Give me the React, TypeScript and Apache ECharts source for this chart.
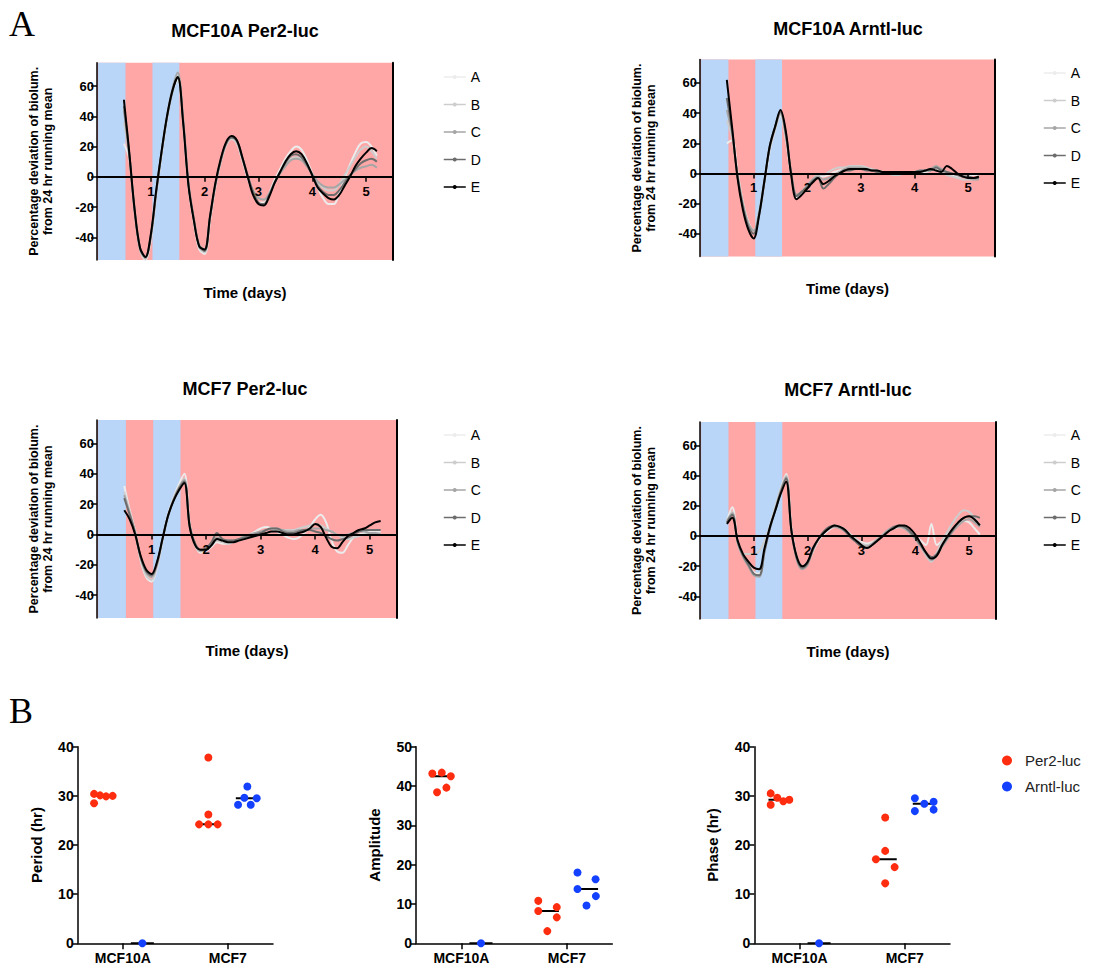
import React, { useEffect, useRef } from "react";
import * as echarts from "echarts";

// ---------- DATA: panel A (percentage deviation of bioluminescence) ----------
const TIME_DAYS = [0.5, 0.6, 0.7, 0.8, 0.9, 1.0, 1.1, 1.2, 1.3, 1.4, 1.5, 1.6, 1.7, 1.8, 1.9, 2.0, 2.1, 2.2, 2.3, 2.4, 2.5, 2.6, 2.7, 2.8, 2.9, 3.0, 3.1, 3.2, 3.3, 3.4, 3.5, 3.6, 3.7, 3.8, 3.9, 4.0, 4.1, 4.2, 4.3, 4.4, 4.5, 4.6, 4.7, 4.8, 4.9, 5.0, 5.1, 5.2];
const REPLICATES = ["A", "B", "C", "D", "E"];
const X_TICKS = [1, 2, 3, 4, 5];
const Y_TICKS = [-40, -20, 0, 20, 40, 60];
const Y_MIN = -55;
const Y_MAX = 75.5;
const BLUE_BANDS = [[0.02, 0.53], [1.03, 1.53]];

const MCF10A_PER2_A = [22, 12, -22, -48, -55, -42, -12, 14, 38, 56, 64, 35, -7, -30, -48, -51, -29, -6, 10, 21, 25, 22, 11, -1, -11, -17, -17, -11, -2, 5, 12, 17, 20, 18, 11, 2, -7, -14, -18, -18, -11, -1, 8, 16, 22, 23, 20, 14];
const MCF10A_PER2_B = [36, 13, -23, -48, -54, -40, -11, 15, 39, 57, 67, 38, -5, -29, -47, -50, -28, -6, 10, 21, 25, 22, 12, 0, -9, -14, -15, -11, -3, 3, 8, 12, 13, 12, 8, 2, -4, -7, -9, -9, -5, 1, 7, 13, 18, 20, 17, 12];
const MCF10A_PER2_C = [44, 14, -23, -48, -54, -40, -11, 16, 40, 58, 69, 39, -4, -28, -45, -48, -27, -5, 11, 22, 26, 23, 12, 0, -9, -14, -15, -11, -4, 2, 7, 11, 12, 11, 7, 2, -3, -6, -7, -7, -5, -2, 1, 4, 6, 7, 8, 6];
const MCF10A_PER2_D = [47, 15, -22, -47, -53, -39, -10, 16, 39, 56, 66, 37, -5, -28, -46, -49, -27, -5, 11, 22, 26, 24, 13, 1, -10, -17, -18, -12, -4, 3, 9, 14, 15, 13, 8, 1, -6, -10, -12, -12, -9, -4, 1, 5, 9, 11, 12, 10];
const MCF10A_PER2_E = [51, 16, -22, -47, -53, -38, -9, 17, 40, 57, 66, 36, -6, -29, -46, -48, -26, -4, 12, 23, 27, 24, 13, 0, -12, -18, -19, -13, -4, 3, 10, 15, 17, 15, 9, 1, -7, -11, -14, -15, -12, -6, 0, 7, 12, 16, 19, 17];

const MCF10A_ARNTL_A = [20, 22, 1, -19, -32, -38, -27, -7, 15, 29, 38, 23, -1, -16, -13, -9, -5, -2, -2, -1, 1, 2, 3, 3, 3, 3, 3, 2, 2, 1, 1, 1, 0, 0, 0, 0, 1, 1, 2, 3, 1, 0, -1, -2, -2, -2, -1, -1];
const MCF10A_ARNTL_B = [35, 24, 0, -20, -33, -38, -26, -6, 16, 29, 39, 24, 0, -15, -12, -8, -4, -1, -1, 1, 3, 4, 4, 5, 5, 5, 4, 3, 2, 1, 0, -1, -1, 0, 0, 1, 2, 2, 3, 2, 1, -1, -2, -3, -4, -4, -4, -3];
const MCF10A_ARNTL_C = [42, 26, -1, -20, -33, -38, -26, -5, 17, 30, 40, 25, 1, -14, -12, -8, -4, -2, -4, -3, -1, 1, 3, 4, 4, 4, 3, 2, 2, 1, 1, 1, 0, 0, 0, 1, 1, 2, 3, 5, 3, 1, 0, -1, -2, -3, -4, -4];
const MCF10A_ARNTL_D = [50, 28, -2, -22, -35, -40, -28, -6, 18, 31, 41, 26, 0, -15, -12, -9, -5, -3, -10, -7, -3, 0, 2, 2, 3, 3, 2, 2, 1, 1, 0, 0, 1, 1, 1, 1, 2, 2, 2, 4, 2, 1, 0, -1, -2, -2, -3, -3];
const MCF10A_ARNTL_E = [62, 30, -3, -24, -37, -43, -28, -5, 18, 31, 42, 28, -1, -17, -14, -10, -6, -3, -7, -5, -2, 0, 2, 3, 3, 3, 3, 2, 2, 1, 1, 1, 1, 1, 1, 1, 1, 2, 3, 2, 1, 5, 3, 0, -2, -3, -3, -2];

const MCF7_PER2_A = [32, 16, 2, -17, -28, -31, -22, -4, 13, 24, 33, 40, 7, -7, -12, -11, -8, -5, -6, -6, -5, -4, -2, 0, 2, 4, 5, 4, 2, 0, -2, -3, -2, 1, 5, 10, 13, 8, -4, -11, -12, -7, -2, 0, 1, 2, 2, 2];
const MCF7_PER2_B = [28, 15, 2, -16, -27, -30, -21, -4, 12, 23, 31, 37, 6, -7, -11, -10, -7, -4, -5, -6, -5, -4, -3, -2, -1, 0, 1, 2, 3, 3, 3, 3, 4, 5, 6, 7, 6, 4, 2, 0, -2, -3, -2, -1, 0, 1, 1, 1];
const MCF7_PER2_C = [26, 14, 1, -15, -25, -28, -20, -3, 12, 23, 31, 36, 5, -7, -11, -10, -6, -2, -3, -4, -4, -3, -1, 0, 1, 2, 3, 4, 4, 3, 2, 2, 3, 3, 4, 4, 4, 3, 2, 0, -1, 0, 1, 2, 2, 1, 1, 0];
const MCF7_PER2_D = [24, 13, 1, -15, -24, -27, -19, -3, 12, 22, 30, 35, 6, -6, -10, -9, -5, 1, -3, -4, -4, -3, -2, -1, 0, 1, 3, 4, 4, 2, 1, 1, 2, 3, 3, 2, 1, -1, -3, -4, -3, -2, 0, 2, 3, 3, 3, 3];
const MCF7_PER2_E = [16, 10, 0, -14, -23, -26, -18, -3, 12, 22, 29, 34, 5, -7, -10, -10, -7, -3, -4, -5, -5, -4, -3, -2, -1, 0, 1, 2, 2, 1, 0, 0, 1, 2, 4, 7, 5, -2, -8, -9, -5, -1, 1, 3, 4, 6, 8, 9];

const MCF7_ARNTL_A = [10, 19, -3, -13, -19, -24, -25, -9, 7, 19, 31, 41, 5, -15, -21, -18, -10, -3, 1, 4, 6, 6, 4, 1, -2, -4, -5, -4, -2, 1, 3, 5, 6, 5, 3, 0, -3, -6, 8, -6, -3, 1, 5, 8, 10, 9, 5, 1];
const MCF7_ARNTL_B = [9, 16, -5, -12, -12, -12, -10, -3, 7, 19, 31, 40, 4, -14, -20, -17, -9, -2, 2, 5, 7, 6, 4, 1, -2, -5, -6, -5, -2, 1, 4, 5, 6, 5, 2, -2, -7, -13, -17, -11, -3, 3, 9, 14, 17, 16, 12, 7];
const MCF7_ARNTL_C = [10, 15, -4, -14, -20, -26, -27, -10, 6, 18, 30, 39, 4, -16, -22, -19, -9, -2, 2, 5, 6, 5, 3, -1, -3, -6, -7, -5, -2, 1, 4, 6, 6, 5, 2, -2, -7, -12, -16, -13, -7, -2, 3, 7, 10, 11, 9, 6];
const MCF7_ARNTL_D = [9, 14, -4, -13, -19, -25, -26, -10, 5, 17, 29, 38, 3, -15, -21, -18, -9, -2, 3, 6, 7, 6, 3, -1, -4, -7, -8, -6, -3, 0, 3, 6, 7, 6, 3, -1, -6, -11, -14, -12, -6, -1, 4, 9, 12, 13, 13, 12];
const MCF7_ARNTL_E = [8, 12, -3, -12, -17, -21, -22, -8, 6, 17, 28, 36, 3, -14, -20, -17, -8, -2, 2, 5, 7, 6, 4, 0, -3, -6, -8, -6, -3, 0, 3, 5, 7, 7, 5, 1, -5, -11, -15, -13, -6, 0, 5, 9, 12, 13, 11, 7];

// ---------- DATA: panel B ----------
const GROUPS = ["MCF10A", "MCF7"];
const PERIOD_PER2_MCF10A = [30.4, 28.5, 30.1, 29.9, 30.0];
const PERIOD_ARNTL_MCF10A = [0];
const PERIOD_PER2_MCF7 = [37.8, 26.2, 24.2, 24.2, 24.2];
const PERIOD_ARNTL_MCF7 = [31.9, 29.6, 29.5, 28.2, 28.2];
const AMP_PER2_MCF10A = [43.2, 43.4, 42.5, 38.4, 39.6];
const AMP_ARNTL_MCF10A = [0];
const AMP_PER2_MCF7 = [10.8, 8.2, 9.2, 6.6, 3.1];
const AMP_ARNTL_MCF7 = [18.0, 16.3, 13.8, 12.0, 9.6];
const PHASE_PER2_MCF10A = [30.5, 28.2, 29.6, 28.9, 29.2];
const PHASE_ARNTL_MCF10A = [0];
const PHASE_PER2_MCF7 = [25.6, 18.8, 17.1, 15.5, 12.2];
const PHASE_ARNTL_MCF7 = [29.5, 28.4, 28.8, 26.9, 27.2];

// ---------- layout / style ----------
const FONT = '"Liberation Sans", Arial, Helvetica, sans-serif';
const PINK = "#ffa6a6";
const BLUE = "#b9d5f8";
const REP_COLORS = ["#ececec", "#cdcdcd", "#a6a6a6", "#6c6c6c", "#000000"];
const RED = "#ff2d10";
const DOT_BLUE = "#1440ff";

// horizontal dot-plot spreading (pixels from the group's centre)
const JIT_PERIOD = [[-9.3, -9.3, -3.3, 2.7, 9.3], [0], [0, 0, -9.3, 0, 9.3], [0, -3, 9.4, -9.3, 3.4]];
const JIT_AMP = [[-9.4, 0, 9, -4.7, 4.6], [0], [-9, -9, 9.4, 9.4, 0], [-9, 9, -9, 9.3, 0]];
const JIT_PHASE = [[-9.3, -9.3, -2.7, 3.3, 9.3], [0], [0, 0, -9.3, 9.4, 0], [-9.4, 0, 9.3, -9.4, 9.3]];

function median(a: number[]) {
  const s = [...a].sort((x, y) => x - y);
  const m = Math.floor(s.length / 2);
  return s.length % 2 ? s[m] : (s[m - 1] + s[m]) / 2;
}

function buildOption() {
  const PANELS_A = [
    { title: "MCF10A Per2-luc", data: [MCF10A_PER2_A, MCF10A_PER2_B, MCF10A_PER2_C, MCF10A_PER2_D, MCF10A_PER2_E], left: 97, top: 62.7, width: 296, height: 197.3, lgLeft: 438, lgTop: 65, tx: 245, ty: 31 },
    { title: "MCF10A Arntl-luc", data: [MCF10A_ARNTL_A, MCF10A_ARNTL_B, MCF10A_ARNTL_C, MCF10A_ARNTL_D, MCF10A_ARNTL_E], left: 700, top: 59.5, width: 295, height: 197, lgLeft: 1038, lgTop: 61, tx: 848, ty: 29 },
    { title: "MCF7 Per2-luc", data: [MCF7_PER2_A, MCF7_PER2_B, MCF7_PER2_C, MCF7_PER2_D, MCF7_PER2_E], left: 97, top: 420, width: 300, height: 198, lgLeft: 438, lgTop: 423, tx: 245, ty: 389 },
    { title: "MCF7 Arntl-luc", data: [MCF7_ARNTL_A, MCF7_ARNTL_B, MCF7_ARNTL_C, MCF7_ARNTL_D, MCF7_ARNTL_E], left: 700, top: 422, width: 296, height: 197, lgLeft: 1038, lgTop: 423, tx: 848, ty: 390 },
  ];
  const PANELS_B = [
    { name: "Period (hr)", max: 40, left: 77.7, width: 195.3, sets: [PERIOD_PER2_MCF10A, PERIOD_ARNTL_MCF10A, PERIOD_PER2_MCF7, PERIOD_ARNTL_MCF7], jit: JIT_PERIOD },
    { name: "Amplitude", max: 50, left: 416, width: 196.3, sets: [AMP_PER2_MCF10A, AMP_ARNTL_MCF10A, AMP_PER2_MCF7, AMP_ARNTL_MCF7], jit: JIT_AMP },
    { name: "Phase (hr)", max: 40, left: 754.3, width: 195.7, sets: [PHASE_PER2_MCF10A, PHASE_ARNTL_MCF10A, PHASE_PER2_MCF7, PHASE_ARNTL_MCF7], jit: JIT_PHASE },
  ];

  const grid: any[] = [];
  const xAxis: any[] = [];
  const yAxis: any[] = [];
  const series: any[] = [];
  const legend: any[] = [];
  const graphic: any[] = [];

  PANELS_A.forEach((p, i) => {
    grid.push({ left: p.left, top: p.top, width: p.width, height: p.height });
    // the time axis sits on the y = 0 line
    const zeroOffset = -((0 - Y_MIN) / (Y_MAX - Y_MIN)) * p.height;
    xAxis.push({
      gridIndex: i, type: "value", min: 0, max: 5.5, position: "bottom", offset: zeroOffset, z: 10,
      axisLine: { onZero: false, lineStyle: { color: "#000", width: 2 } },
      axisTick: { show: true, customValues: X_TICKS, length: 5, lineStyle: { color: "#000", width: 1.5 } },
      axisLabel: { customValues: X_TICKS, fontWeight: "bold", fontSize: 13, color: "#000", margin: 8, fontFamily: FONT },
      splitLine: { show: false },
      name: "Time (days)", nameLocation: "middle", nameGap: 108,
      nameTextStyle: { fontWeight: "bold", fontSize: 15, color: "#000", fontFamily: FONT },
    });
    yAxis.push({
      gridIndex: i, type: "value", min: Y_MIN, max: Y_MAX, position: "left", z: 10,
      axisLine: { show: true, onZero: false, lineStyle: { color: "#000", width: 1.5 } },
      axisTick: { show: true, customValues: Y_TICKS, length: 6, lineStyle: { color: "#000", width: 1.5 } },
      axisLabel: { customValues: Y_TICKS, fontWeight: "bold", fontSize: 13, color: "#000", margin: 3, fontFamily: FONT },
      splitLine: { show: false },
      name: "Percentage deviation of biolum.\nfrom 24 hr running mean", nameLocation: "middle", nameGap: 42, nameRotate: 90,
      nameTextStyle: { fontWeight: "bold", fontSize: 12.5, lineHeight: 14, color: "#000", fontFamily: FONT },
    });
    yAxis.push({
      gridIndex: i, type: "value", min: Y_MIN, max: Y_MAX, position: "right", z: 10,
      axisLine: { show: true, onZero: false, lineStyle: { color: "#000", width: 2 } },
      axisTick: { show: false }, axisLabel: { show: false }, splitLine: { show: false },
    });
    series.push({
      type: "line", xAxisIndex: i, yAxisIndex: 2 * i, data: [], silent: true, z: 1,
      markArea: {
        silent: true, label: { show: false },
        data: [
          [{ xAxis: 0, itemStyle: { color: PINK } }, { xAxis: 5.5 }],
          ...BLUE_BANDS.map((b) => [{ xAxis: b[0], itemStyle: { color: BLUE } }, { xAxis: b[1] }]),
        ],
      },
    });
    p.data.forEach((vals, k) => {
      series.push({
        type: "line", name: REPLICATES[k], xAxisIndex: i, yAxisIndex: 2 * i,
        data: TIME_DAYS.map((t, j) => [t, vals[j]]),
        smooth: 0.35, showSymbol: false, symbol: "circle", symbolSize: 3,
        lineStyle: { color: REP_COLORS[k], width: 2 }, itemStyle: { color: REP_COLORS[k] }, z: 3,
      });
    });
    legend.push({
      orient: "vertical", left: p.lgLeft, top: p.lgTop, data: REPLICATES, selectedMode: false,
      itemWidth: 22, itemHeight: 5, itemGap: 13.5,
      lineStyle: { width: 1.5 },
      textStyle: { fontSize: 14, color: "#000", fontFamily: FONT },
    });
    graphic.push({
      type: "text", x: p.tx, y: p.ty,
      style: { text: p.title, font: `bold 18px ${FONT}`, fill: "#000", align: "center", verticalAlign: "middle", textAlign: "center", textVerticalAlign: "middle" },
    });
  });

  const SUB = 19.5 / 105;
  const HALF = 11.5 / 105;
  PANELS_B.forEach((p, j) => {
    const gi = 4 + j;
    grid.push({ left: p.left, top: 746.7, width: p.width, height: 196.6 });
    xAxis.push({
      gridIndex: gi, type: "value", min: 0.57, max: 2.43,
      axisLine: { onZero: false, lineStyle: { color: "#000", width: 1.5 } },
      axisTick: { show: true, customValues: [1, 2], length: 6, lineStyle: { color: "#000", width: 1.5 } },
      axisLabel: { customValues: [1, 2], formatter: (v: number) => GROUPS[Math.round(v) - 1], fontWeight: "bold", fontSize: 14, color: "#000", margin: 8, fontFamily: FONT },
      splitLine: { show: false },
    });
    yAxis.push({
      gridIndex: gi, type: "value", min: 0, max: p.max, interval: 10,
      axisLine: { show: true, onZero: false, lineStyle: { color: "#000", width: 1.5 } },
      axisTick: { show: true, length: 5, lineStyle: { color: "#000", width: 1.5 } },
      axisLabel: { fontWeight: "bold", fontSize: 14, color: "#000", margin: 4, fontFamily: FONT },
      splitLine: { show: false },
      name: p.name, nameLocation: "middle", nameGap: 34, nameRotate: 90,
      nameTextStyle: { fontWeight: "bold", fontSize: 15, color: "#000", fontFamily: FONT },
    });
    const yi = 8 + j;
    const per2: number[][] = [];
    const arntl: number[][] = [];
    p.sets.forEach((vals, s) => {
      const groupPos = s < 2 ? 1 : 2;
      const isPer2 = s % 2 === 0;
      const c = groupPos + (isPer2 ? -SUB : SUB);
      vals.forEach((v, k) => (isPer2 ? per2 : arntl).push([c + p.jit[s][k] / 105, v]));
      const med = median(vals);
      series.push({
        type: "line", xAxisIndex: gi, yAxisIndex: yi, data: [[c - HALF, med], [c + HALF, med]],
        showSymbol: false, symbol: "none", lineStyle: { color: "#000", width: 2 }, z: 2, silent: true,
      });
    });
    series.push({ type: "scatter", name: "Per2-luc", xAxisIndex: gi, yAxisIndex: yi, data: per2, symbolSize: 8, itemStyle: { color: RED, opacity: 1 }, z: 3 });
    series.push({ type: "scatter", name: "Arntl-luc", xAxisIndex: gi, yAxisIndex: yi, data: arntl, symbolSize: 8, itemStyle: { color: DOT_BLUE, opacity: 1 }, z: 3 });
  });

  legend.push({
    orient: "vertical", left: 997, top: 748, data: ["Per2-luc", "Arntl-luc"], selectedMode: false,
    icon: "circle", itemWidth: 10, itemHeight: 10, itemGap: 11,
    textStyle: { fontSize: 15, color: "#222", fontFamily: FONT, padding: [0, 0, 0, 8] },
  });

  graphic.push({ type: "text", x: 9, y: 6, style: { text: "A", font: '36px "Liberation Serif", "DejaVu Serif", serif', fill: "#000" } });
  graphic.push({ type: "text", x: 9, y: 693, style: { text: "B", font: '36px "Liberation Serif", "DejaVu Serif", serif', fill: "#000" } });

  return {
    animation: false,
    backgroundColor: "#fff",
    textStyle: { fontFamily: FONT },
    grid, xAxis, yAxis, series, legend, graphic,
  };
}

export default function App() {
  const ref = useRef<HTMLDivElement>(null);
  useEffect(() => {
    if (!ref.current) return;
    const chart = echarts.init(ref.current, undefined, { renderer: "svg" });
    chart.setOption(buildOption() as any);
    return () => chart.dispose();
  }, []);
  return <div ref={ref} style={{ position: "absolute", left: 0, top: 0, width: 1094, height: 974 }} />;
}
